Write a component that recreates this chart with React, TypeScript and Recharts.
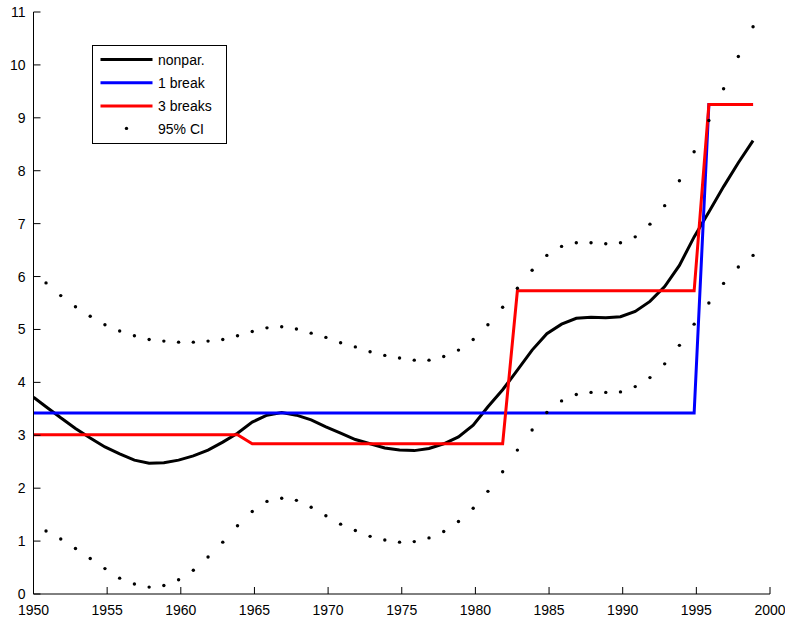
import React from 'react';
import { ComposedChart, Line, XAxis, YAxis, Legend } from 'recharts';

// Confidence band (dotted), one point per year
const ciYears = [1951, 1952, 1953, 1954, 1955, 1956, 1957, 1958, 1959, 1960, 1961, 1962, 1963, 1964, 1965, 1966, 1967, 1968, 1969, 1970, 1971, 1972, 1973, 1974, 1975, 1976, 1977, 1978, 1979, 1980, 1981, 1982, 1983, 1984, 1985, 1986, 1987, 1988, 1989, 1990, 1991, 1992, 1993, 1994, 1995, 1996, 1997, 1998, 1999];
const ciUpper = [5.88, 5.64, 5.43, 5.25, 5.09, 4.97, 4.88, 4.81, 4.78, 4.76, 4.76, 4.78, 4.81, 4.88, 4.96, 5.03, 5.05, 5.01, 4.93, 4.85, 4.75, 4.67, 4.58, 4.51, 4.46, 4.42, 4.42, 4.49, 4.61, 4.81, 5.09, 5.42, 5.78, 6.12, 6.40, 6.57, 6.64, 6.64, 6.62, 6.64, 6.75, 6.99, 7.34, 7.81, 8.36, 8.95, 9.55, 10.16, 10.72];
const ciLower = [1.19, 1.04, 0.86, 0.67, 0.48, 0.30, 0.19, 0.13, 0.16, 0.27, 0.45, 0.70, 0.98, 1.29, 1.56, 1.75, 1.81, 1.77, 1.64, 1.48, 1.32, 1.20, 1.09, 1.02, 0.98, 0.99, 1.06, 1.18, 1.37, 1.62, 1.94, 2.31, 2.72, 3.10, 3.43, 3.65, 3.77, 3.81, 3.81, 3.82, 3.92, 4.09, 4.35, 4.70, 5.10, 5.50, 5.87, 6.18, 6.40];

// Nonparametric estimate
const npYears = [1950, 1951, 1952, 1953, 1954, 1955, 1956, 1957, 1958, 1959, 1960, 1961, 1962, 1963, 1964, 1965, 1966, 1967, 1968, 1969, 1970, 1971, 1972, 1973, 1974, 1975, 1976, 1977, 1978, 1979, 1980, 1981, 1982, 1983, 1984, 1985, 1986, 1987, 1988, 1989, 1990, 1991, 1992, 1993, 1994, 1995, 1996, 1997, 1998, 1999];
const npValues = [3.72, 3.54, 3.33, 3.13, 2.95, 2.78, 2.65, 2.53, 2.47, 2.48, 2.53, 2.61, 2.72, 2.87, 3.04, 3.25, 3.38, 3.43, 3.38, 3.29, 3.16, 3.04, 2.92, 2.84, 2.76, 2.72, 2.71, 2.75, 2.84, 2.97, 3.19, 3.54, 3.86, 4.23, 4.61, 4.92, 5.10, 5.21, 5.23, 5.22, 5.24, 5.34, 5.53, 5.81, 6.21, 6.75, 7.22, 7.70, 8.15, 8.57];

// 1 break model
const oneBreakYears = [1950, 1995, 1996, 1999];
const oneBreakValues = [3.42, 3.42, 9.25, 9.25];

// 3 breaks model
const threeBreakYears = [1950, 1964, 1965, 1982, 1983, 1995, 1996, 1999];
const threeBreakValues = [3.01, 3.01, 2.84, 2.84, 5.73, 5.73, 9.25, 9.25];

const xTicks = [1950, 1955, 1960, 1965, 1970, 1975, 1980, 1985, 1990, 1995, 2000];
const yTicks = [0, 1, 2, 3, 4, 5, 6, 7, 8, 9, 10, 11];

const legendLabels = ['nonpar.', '1 break', '3 breaks', '95% CI'];

const X_SHIFT = -0.15; // sampling points sit slightly before the integer year
const sx = (y: number) => (y === 1950 ? y : y + X_SHIFT);

const ciData = ciYears.map((y, i) => ({ x: sx(y), up: ciUpper[i], lo: ciLower[i] }));
const npData = npYears.map((y, i) => ({ x: sx(y), v: npValues[i] }));
const oneData = oneBreakYears.map((y, i) => ({ x: sx(y), v: oneBreakValues[i] }));
const threeData = threeBreakYears.map((y, i) => ({ x: sx(y), v: threeBreakValues[i] }));

const FONT = '"Liberation Sans", Arial, Helvetica, sans-serif';

const XTick = (props: any) => {
  const { x, y, payload } = props;
  return (
    <g>
      <line x1={x} y1={y} x2={x} y2={y - 7} stroke="#000" strokeWidth={1} />
      <text x={x} y={y + 21} textAnchor="middle" fontFamily={FONT} fontSize={14} fill="#000">
        {payload.value}
      </text>
    </g>
  );
};

const YTick = (props: any) => {
  const { x, y, payload } = props;
  return (
    <g>
      <line x1={x} y1={y} x2={x + 7} y2={y} stroke="#000" strokeWidth={1} />
      <text x={x - 8} y={y} dy="0.36em" textAnchor="end" fontFamily={FONT} fontSize={14} fill="#000">
        {payload.value}
      </text>
    </g>
  );
};

const colors = ['#000000', '#0000ff', '#ff0000'];

const renderLegend = () => (
  <div
    style={{
      width: 135,
      height: 99,
      border: '1px solid #000',
      background: '#fff',
      boxSizing: 'border-box',
    }}
  >
    <svg width={133} height={97} style={{ display: 'block' }}>
      {legendLabels.map((label, i) => {
        const cy = 13.5 + i * 23.3;
        return (
          <g key={label}>
            {i < 3 ? (
              <line x1={7.5} y1={cy} x2={59.5} y2={cy} stroke={colors[i]} strokeWidth={3} />
            ) : (
              <circle cx={33.5} cy={cy - 1} r={1.7} fill="#000" />
            )}
            <text x={65} y={cy} dy="0.36em" fontFamily={FONT} fontSize={14} fill="#000">
              {label}
            </text>
          </g>
        );
      })}
    </svg>
  </div>
);

export default function App() {
  return (
    <div style={{ position: 'absolute', left: 0, top: 0, background: '#fff' }}>
      <ComposedChart
        width={785}
        height={624}
        margin={{ top: 12, right: 15, left: 0, bottom: 0 }}
      >
        <XAxis
          type="number"
          dataKey="x"
          domain={[1950, 2000]}
          ticks={xTicks}
          allowDataOverflow
          height={30}
          tickSize={0}
          tickMargin={0}
          tickLine={false}
          axisLine={{ stroke: '#000', strokeWidth: 1 }}
          tick={<XTick />}
          interval={0}
        />
        <YAxis
          type="number"
          domain={[0, 11]}
          ticks={yTicks}
          allowDataOverflow
          width={33.5}
          tickSize={0}
          tickMargin={0}
          tickLine={false}
          axisLine={{ stroke: '#000', strokeWidth: 1 }}
          tick={<YTick />}
          interval={0}
        />
        <Legend
          layout="vertical"
          align="center"
          verticalAlign="middle"
          wrapperStyle={{ left: 92, top: 45, width: 135, height: 99 }}
          content={renderLegend}
        />
        <Line data={npData} dataKey="v" type="linear" stroke="#000" strokeWidth={3} dot={false} isAnimationActive={false} name="nonpar." />
        <Line data={oneData} dataKey="v" type="linear" stroke="#0000ff" strokeWidth={3} dot={false} isAnimationActive={false} name="1 break" />
        <Line data={threeData} dataKey="v" type="linear" stroke="#ff0000" strokeWidth={3} dot={false} isAnimationActive={false} name="3 breaks" />
        <Line data={ciData} dataKey="up" stroke="none" dot={{ r: 1.7, fill: '#000', stroke: 'none' }} activeDot={false} isAnimationActive={false} name="95% CI" legendType="none" />
        <Line data={ciData} dataKey="lo" stroke="none" dot={{ r: 1.7, fill: '#000', stroke: 'none' }} activeDot={false} isAnimationActive={false} name="95% CI lower" legendType="none" />
      </ComposedChart>
    </div>
  );
}
